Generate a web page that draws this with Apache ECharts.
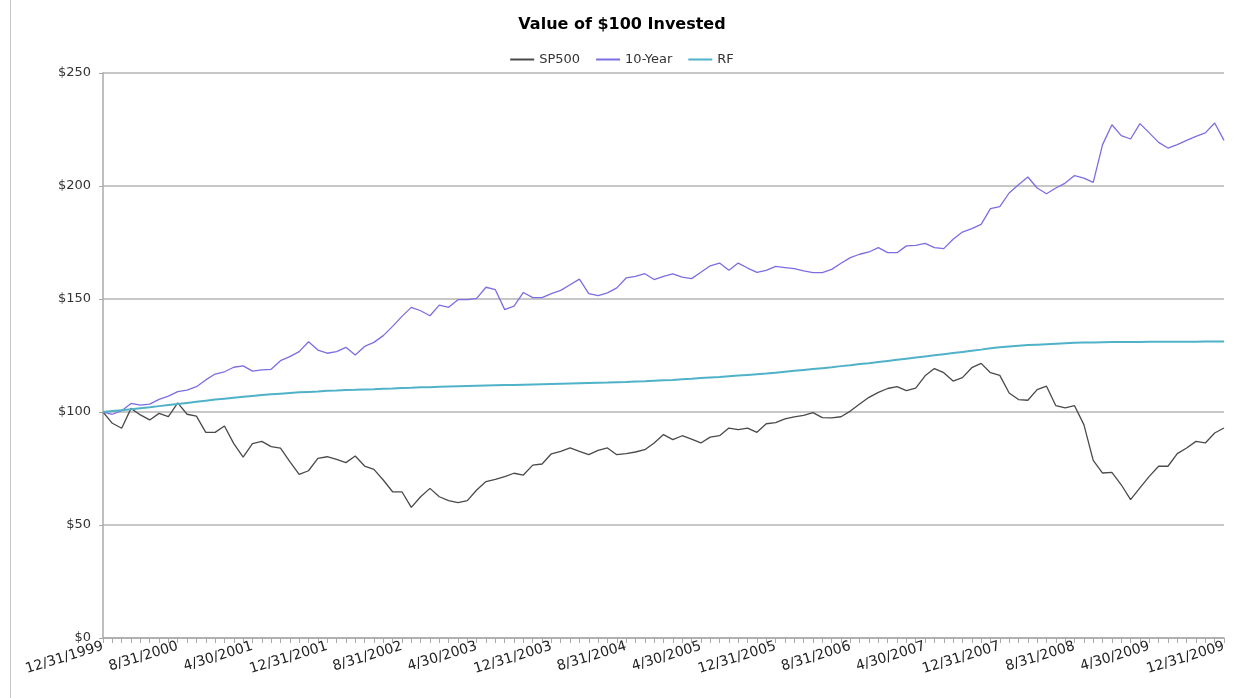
<!DOCTYPE html>
<html>
<head>
<meta charset="utf-8">
<title>Value of $100 Invested</title>
<script src="https://cdn.jsdelivr.net/npm/echarts@6/dist/echarts.min.js"></script>
<style>
	html, body { margin: 0; padding: 0; background: #fff; }
	#chart { width: 1244px; height: 698px; }
</style>
</head>
<body>
<div id="chart"></div>
<script>
// month-end dates, 12/31/1999 .. 12/31/2009
var months = [];
for (var k = 0; k <= 120; k++) {
	var y = 1999 + Math.floor((11 + k) / 12);
	var m = (11 + k) % 12;
	var d = new Date(y, m + 1, 0).getDate();
	months.push((m + 1) + '/' + d + '/' + y);
}

var yTicks = [0, 50, 100, 150, 200, 250];

var sp500 = [
	100, 95, 92.8, 101.6, 98.7, 96.5, 99.4, 98, 104, 99, 98.2, 91, 91,
	93.8, 86, 80, 86, 87, 84.7, 84, 78, 72.4, 74, 79.5, 80.2,
	79, 77.6, 80.5, 76.1, 74.6, 69.9, 64.7, 64.7, 57.8, 62.5, 66.2, 62.5,
	60.8, 59.9, 60.8, 65.5, 69.2, 70.2, 71.4, 72.9, 72.1, 76.5, 77, 81.5,
	82.6, 84.1, 82.6, 81.1, 83, 84.1, 81.1, 81.6, 82.3, 83.3, 86.3, 90,
	87.8, 89.5, 88, 86.3, 88.9, 89.5, 92.9, 92.2, 92.9, 91, 94.8, 95.3,
	97, 97.8, 98.5, 99.7, 97.5, 97.4, 97.9, 100.4, 103.5, 106.5, 108.7, 110.4,
	111.2, 109.5, 110.6, 116, 119.2, 117.4, 113.7, 115.2, 119.6, 121.5, 117.4, 116.2,
	108.4, 105.5, 105.2, 109.9, 111.4, 102.8, 101.8, 102.8, 94.4, 78.6, 73, 73.3,
	67.8, 61.2, 66.4, 71.5, 76, 76, 81.6, 84.1, 87, 86.3, 90.7, 92.9
];

var tenYear = [
	100, 99, 100.6, 103.8, 103, 103.5, 105.6, 107, 109, 109.7, 111.2, 114.2, 116.8,
	117.8, 119.8, 120.4, 118.1, 118.6, 118.9, 122.7, 124.5, 126.7, 131.1, 127.4, 126,
	126.7, 128.6, 125.2, 129, 130.8, 133.8, 137.9, 142.3, 146.3, 144.8, 142.6, 147.3,
	146.3, 149.7, 149.7, 150.3, 155.2, 154.1, 145.3, 146.8, 152.9, 150.6, 150.6, 152.4,
	153.8, 156.3, 158.8, 152.4, 151.5, 152.7, 154.9, 159.3, 160, 161.2, 158.6, 160,
	161.1, 159.7, 159, 161.8, 164.7, 165.9, 162.7, 165.9, 163.7, 161.8, 162.7, 164.4,
	163.9, 163.4, 162.4, 161.7, 161.7, 163.1, 165.8, 168.3, 169.8, 170.8, 172.7, 170.5,
	170.5, 173.5, 173.7, 174.6, 172.7, 172.3, 176.4, 179.6, 181.1, 183, 190, 190.9,
	196.9, 200.6, 204, 199.1, 196.6, 199.1, 201.3, 204.6, 203.5, 201.6, 218.3, 227.1,
	222.3, 220.8, 227.6, 223.5, 219.3, 216.8, 218.3, 220.2, 222, 223.5, 227.9, 220.2
];

var rf = [
	100, 100.4, 100.8, 101.2, 101.7, 102.1, 102.6, 103.1, 103.5, 104.0, 104.5, 105.0, 105.5,
	105.9, 106.3, 106.7, 107.1, 107.5, 107.8, 108.1, 108.4, 108.7, 108.9, 109.1, 109.4,
	109.5, 109.7, 109.8, 110.0, 110.1, 110.3, 110.4, 110.6, 110.7, 110.9, 111.0, 111.2,
	111.3, 111.4, 111.5, 111.6, 111.7, 111.8, 111.9, 112.0, 112.1, 112.2, 112.3, 112.4,
	112.5, 112.6, 112.7, 112.8, 112.9, 113.0, 113.2, 113.3, 113.5, 113.6, 113.8, 114.0,
	114.2, 114.5, 114.7, 115.0, 115.3, 115.5, 115.8, 116.1, 116.4, 116.7, 117.0, 117.4,
	117.8, 118.2, 118.6, 119.0, 119.4, 119.8, 120.3, 120.7, 121.2, 121.6, 122.1, 122.6,
	123.1, 123.6, 124.1, 124.6, 125.1, 125.6, 126.1, 126.6, 127.1, 127.6, 128.2, 128.7,
	129.0, 129.3, 129.6, 129.8, 130.0, 130.2, 130.4, 130.6, 130.7, 130.8, 130.9, 131.0,
	131.0, 131.0, 131.0, 131.1, 131.1, 131.1, 131.1, 131.1, 131.1, 131.2, 131.2, 131.2
];

var seriesNames = ['SP500', '10-Year', 'RF'];
var seriesColors = ['#4a4a4a', '#7b6ee3', '#4fb2c9'];
var seriesWidths = [1.3, 1.3, 2];

function seriesAssemble(list) {
	var out = [];
	for (var i = 0; i < list.length; i++) {
		out.push({
			name: seriesNames[i],
			type: 'line',
			data: list[i],
			symbol: 'none',
			smooth: false,
			color: seriesColors[i],
			lineStyle: { width: seriesWidths[i], color: seriesColors[i] },
			animation: false
		});
	}
	return out;
}

var chart = echarts.init(document.getElementById('chart'));
var font = 'DejaVu Sans, Verdana, sans-serif';

var option = {
	backgroundColor: '#ffffff',
	animation: false,
	title: {
		text: 'Value of $100 Invested',
		left: 'center',
		top: 12,
		textStyle: { fontFamily: font, fontSize: 16, fontWeight: 'bold', color: '#000' }
	},
	legend: {
		data: seriesNames,
		top: 48,
		left: 'center',
		icon: 'rect',
		itemWidth: 24,
		itemHeight: 2,
		itemGap: 16,
		textStyle: { fontFamily: font, fontSize: 13, color: '#333' }
	},
	graphic: [{
		type: 'line',
		shape: { x1: 10.5, y1: 0, x2: 10.5, y2: 698 },
		style: { stroke: '#c8c8c8', lineWidth: 1 }
	}],
	grid: { left: 103, right: 20, top: 73, bottom: 60, containLabel: false },
	xAxis: {
		type: 'category',
		boundaryGap: false,
		data: months,
		axisLine: { lineStyle: { color: '#aaaaaa', width: 1.5 } },
		axisTick: { interval: 0, length: 5, lineStyle: { color: '#aaaaaa' } },
		axisLabel: {
			interval: 7,
			rotate: 17,
			margin: 8,
			fontFamily: font,
			fontSize: 14,
			color: '#222'
		},
		splitLine: { show: false }
	},
	yAxis: {
		type: 'value',
		min: yTicks[0],
		max: yTicks[yTicks.length - 1],
		interval: 50,
		axisLine: { show: true, lineStyle: { color: '#aaaaaa', width: 1.5 } },
		axisTick: { show: true, length: 4, lineStyle: { color: '#aaaaaa' } },
		axisLabel: {
			margin: 12,
			fontFamily: font,
			fontSize: 13,
			color: '#333',
			formatter: function (v) { return '$' + v; }
		},
		splitLine: { lineStyle: { color: '#b4b4b4', width: 1.5 } }
	},
	series: seriesAssemble([sp500, tenYear, rf])
};

chart.setOption(option);
</script>
</body>
</html>
